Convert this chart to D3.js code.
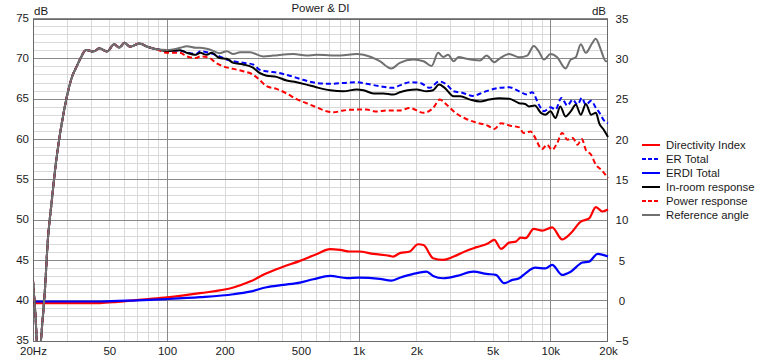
<!DOCTYPE html>
<html><head><meta charset="utf-8">
<script src="https://cdn.jsdelivr.net/npm/d3@7"></script>
<style>body{margin:0;background:#fff}svg{display:block;font-family:"Liberation Sans",Arial,sans-serif}</style>
</head><body><svg id="c" width="760" height="360"></svg>
<script>
// ---- data ----
const title = "Power & DI";
const freqTicks = [20,50,100,200,500,1000,2000,5000,10000,20000];
const freqTickLabels = ["20Hz","50","100","200","500","1k","2k","5k","10k","20k"];
const leftTicks = [35,40,45,50,55,60,65,70,75];
const rightTicks = [-5,0,5,10,15,20,25,30,35];
const seriesNames = ["Directivity Index","ER Total","ERDI Total","In-room response","Power response","Reference angle"];

// shared low-frequency roll-off (left axis, dB)
const lowEnd = [[20,42.5],[20.5,39],[21.5,31.5],[22,35],[23.1,41.5],[23.9,47.5],[25.1,52.5],[26.3,57],[27.6,60.5],[29,63.5],[30.5,66],[32,67.8],[33.7,69],[35.3,70],[37.8,71.1],[41.3,70.9],[44.4,71.3],[48.6,70.9],[53,71.8],[56.5,71.4],[60,72.0],[64,71.5],[72,71.9],[79,71.5],[88,71.2]];

const refAngle = [[100,71.1],[117,71.36],[127,71.56],[142,71.36],[149,71.36],[167,71.15],[188,70.7],[205,70.94],[222,70.6],[241,70.8],[271,70.8],[318,70.3],[358,70.4],[456,70.6],[534,70.4],[602,70.5],[800,70.4],[977,70.6],[1060,70.5],[1290,69.7],[1480,68.8],[1640,69.5],[1930,69.9],[2180,69.7],[2400,69.1],[2600,70.74],[2760,70.24],[2930,70.5],[3130,69.7],[3320,70.24],[3660,70.0],[4300,69.8],[4650,70.4],[5100,69.57],[5420,70.0],[6100,70.6],[6880,70.2],[7580,70.4],[8200,71.6],[8720,70.9],[9260,69.9],[10020,70.6],[10860,70.2],[12000,68.8],[12780,69.9],[13590,70.2],[14420,71.8],[15330,70.74],[16500,71.9],[17270,72.5],[18300,71.2],[19500,69.7],[20000,69.7]];

const inRoom = [[100,70.94],[117,71.06],[127,70.74],[142,70.5],[149,70.74],[161,70.5],[171,70.74],[188,70.1],[205,70.0],[222,69.5],[250,69.3],[281,68.9],[304,68.25],[331,67.9],[373,67.76],[421,67.3],[474,67.1],[534,66.8],[602,66.47],[710,66.1],[832,65.97],[977,66.2],[1060,66.1],[1196,65.7],[1350,65.7],[1513,65.56],[1640,65.85],[1800,66.1],[2004,66.2],[2260,65.97],[2446,66.1],[2630,66.8],[2810,66.4],[3130,65.35],[3390,65.35],[3820,64.94],[4300,64.7],[4800,64.94],[5420,65.1],[6100,65.06],[6880,64.5],[7400,64.4],[7740,64.1],[8300,64.2],[8930,63.3],[9430,63.07],[10020,63.5],[10640,62.66],[11270,64.1],[12000,62.86],[12780,63.48],[13590,64.3],[14420,63.07],[15330,64.4],[16330,63.07],[17300,63.3],[18000,62.0],[19000,61.2],[20000,60.3]];

const erTotal = [[100,71.0],[117,71.0],[127,70.8],[142,70.6],[149,70.94],[167,70.74],[188,70.3],[200,70.0],[222,69.7],[250,69.5],[281,69.3],[304,68.66],[331,68.46],[384,68.25],[437,67.9],[512,67.4],[602,67.0],[710,66.9],[832,67.0],[977,67.1],[1100,66.9],[1290,66.6],[1513,66.4],[1640,66.7],[1850,67.1],[2100,67.0],[2350,66.4],[2630,67.2],[2880,66.8],[3130,65.97],[3500,65.77],[3950,65.4],[4470,65.85],[4800,66.1],[5420,66.4],[6100,66.47],[6880,65.97],[7580,65.56],[8050,65.85],[8720,64.3],[9260,63.5],[10020,64.0],[10640,63.7],[11430,65.15],[12280,64.2],[13100,64.94],[13870,64.3],[14600,65.15],[15330,64.3],[16330,64.8],[17300,63.9],[18070,63.3],[19000,62.4],[20000,62.0]];

const powerResp = [[100,70.74],[117,70.74],[127,70.3],[142,70.1],[149,70.3],[167,70.1],[180,69.5],[195,69.1],[222,68.75],[250,68.46],[281,68.04],[304,67.4],[331,66.6],[373,66.27],[421,65.7],[474,65.0],[534,64.5],[602,64.0],[680,63.5],[740,63.36],[832,63.6],[977,63.7],[1100,63.7],[1240,63.45],[1400,63.6],[1640,63.6],[1850,63.9],[2180,63.3],[2446,63.9],[2650,64.94],[2880,64.3],[3200,63.3],[3600,62.6],[4100,62.1],[4720,61.7],[5100,61.3],[5530,62.0],[6200,61.7],[6880,61.5],[7250,60.8],[7900,61.0],[8200,60.5],[9070,58.8],[9600,59.35],[10220,58.7],[10860,59.56],[11530,60.8],[12280,59.97],[13100,60.18],[13870,59.35],[14600,60.05],[15330,58.7],[16330,58.1],[17300,56.86],[18450,56.24],[20000,55.2]];

// right axis (dB)
const directivity = [[20,-0.3],[30,-0.3],[44.7,-0.3],[55,-0.15],[66.8,0.05],[80,0.2],[100,0.4],[148.6,0.93],[222,1.63],[271,2.37],[331,3.4],[404,4.2],[494,4.94],[602,5.77],[710,6.4],[800,6.3],[900,6.1],[1000,6.1],[1196,5.8],[1456,5.55],[1513,5.47],[1640,5.9],[1850,6.1],[2040,7.0],[2180,6.9],[2446,5.27],[2760,5.06],[3130,5.47],[3660,6.2],[4130,6.64],[4720,7.1],[5100,7.55],[5530,6.43],[6100,7.2],[6610,7.33],[7000,7.83],[7420,7.75],[8200,8.9],[9070,8.7],[10220,9.1],[11530,7.6],[12780,8.36],[14420,9.8],[15950,10.2],[17300,11.6],[18700,11.06],[20000,11.3]];

const erdiTotal = [[20,-0.1],[45,-0.1],[70,0.05],[100,0.2],[149,0.43],[222,0.8],[271,1.13],[331,1.67],[404,1.96],[494,2.25],[580,2.66],[710,3.07],[870,2.8],[1000,2.85],[1290,2.7],[1480,2.5],[1640,2.85],[1930,3.32],[2260,3.6],[2446,3.07],[2760,2.78],[3260,3.07],[3970,3.6],[4650,3.32],[5200,3.2],[5750,2.17],[6350,2.58],[6880,2.78],[7420,3.4],[8350,4.1],[9430,4.0],[10220,4.44],[11530,3.2],[12780,3.6],[14700,4.73],[15950,4.85],[17670,5.8],[20000,5.47]];

// ---- chart ----
const svg = d3.select("#c");
const L=33, R=608, T=18.5, B=341;
const x = d3.scaleLog().domain([20,20000]).range([L,R]);
const yL = d3.scaleLinear().domain([35,75]).range([B,T]);
const yR = d3.scaleLinear().domain([-5,35]).range([B,T]);

const g = svg.append("g");
// minor grid horizontal
g.selectAll(".hm").data(d3.range(36,75).filter(v=>v%5!==0)).enter().append("line")
 .attr("x1",L).attr("x2",R).attr("y1",d=>yL(d)).attr("y2",d=>yL(d))
 .attr("stroke","#d9d9d9").attr("stroke-width",1).attr("shape-rendering","crispEdges");
// minor grid vertical
const minorF=[];
[10,100,1000,10000].forEach(dec=>{for(let k=2;k<=9;k++){const f=dec*k; if(f>20&&f<20000&&f!==100&&f!==1000&&f!==10000) minorF.push(f);} });
g.selectAll(".vm").data(minorF).enter().append("line")
 .attr("y1",T).attr("y2",B).attr("x1",d=>Math.round(x(d))+0.5).attr("x2",d=>Math.round(x(d))+0.5)
 .attr("stroke","#d9d9d9").attr("stroke-width",1);
// major grid
g.selectAll(".hM").data(leftTicks).enter().append("line")
 .attr("x1",L).attr("x2",R).attr("y1",d=>yL(d)).attr("y2",d=>yL(d))
 .attr("stroke","#8a8a8a").attr("stroke-width",1).attr("shape-rendering","crispEdges");
g.selectAll(".vM").data([100,1000,10000]).enter().append("line")
 .attr("y1",T).attr("y2",B).attr("x1",d=>Math.round(x(d))+0.5).attr("x2",d=>Math.round(x(d))+0.5)
 .attr("stroke","#8a8a8a").attr("stroke-width",1);
// border
g.append("rect").attr("x",L+0.5).attr("y",Math.round(T)+0.5).attr("width",R-L-1).attr("height",B-Math.round(T))
 .attr("fill","none").attr("stroke","#6a6a6a").attr("stroke-width",1);

// clip
svg.append("clipPath").attr("id","clip").append("rect").attr("x",L).attr("y",T-4).attr("width",R-L+1).attr("height",B-T+4);

const lineL = d3.line().x(d=>x(d[0])).y(d=>yL(d[1])).curve(d3.curveMonotoneX);
const lineR = d3.line().x(d=>x(d[0])).y(d=>yR(d[1])).curve(d3.curveMonotoneX);

const series = [
 {name:seriesNames[0], data:directivity, line:lineR, color:"#ff0000", dash:null, w:2.2},
 {name:seriesNames[1], data:lowEnd.concat(erTotal), line:lineL, color:"#0000ff", dash:"5,3", w:2},
 {name:seriesNames[2], data:erdiTotal, line:lineR, color:"#0000ff", dash:null, w:2.2},
 {name:seriesNames[3], data:lowEnd.concat(inRoom), line:lineL, color:"#000000", dash:null, w:2},
 {name:seriesNames[4], data:lowEnd.concat(powerResp), line:lineL, color:"#ff0000", dash:"5,3", w:2},
 {name:seriesNames[5], data:lowEnd.concat(refAngle), line:lineL, color:"#707070", dash:null, w:2}
];
const cg = svg.append("g").attr("clip-path","url(#clip)");
series.forEach(s=>{
  cg.append("path").attr("d",s.line(s.data)).attr("fill","none").attr("stroke",s.color)
    .attr("stroke-width",s.w).attr("stroke-dasharray",s.dash).attr("stroke-linejoin","round");
});

// axes labels
const fs = "11.5px";
const axL = d3.axisLeft(yL).tickValues(leftTicks).tickSize(0).tickPadding(0).tickFormat(d3.format("d"));
svg.append("g").attr("transform","translate(29,-1)").call(axL)
 .call(a=>a.select(".domain").remove())
 .selectAll("text").attr("font-size",fs).attr("font-family","Liberation Sans, Arial, sans-serif").attr("fill","#1a1a1a");
const axR = d3.axisRight(yR).tickValues(rightTicks).tickSize(0).tickPadding(0).tickFormat(d3.format("d"));
svg.append("g").attr("transform","translate(622,0)").call(axR)
 .call(a=>a.select(".domain").remove())
 .selectAll("text").attr("text-anchor","middle").attr("font-size",fs).attr("font-family","Liberation Sans, Arial, sans-serif").attr("fill","#1a1a1a");
const axB = d3.axisBottom(x).tickValues(freqTicks).tickSize(0).tickPadding(0).tickFormat((d,i)=>freqTickLabels[i]);
svg.append("g").attr("transform","translate(0,347)").call(axB)
 .call(a=>a.select(".domain").remove())
 .selectAll("text").attr("font-size",fs).attr("font-family","Liberation Sans, Arial, sans-serif").attr("fill","#1a1a1a");

// titles
svg.append("text").attr("x",(L+R)/2).attr("y",12).attr("text-anchor","middle").attr("font-size",fs).attr("fill","#1a1a1a").text(title);
svg.append("text").attr("x",L+1).attr("y",15).attr("font-size",fs).attr("fill","#1a1a1a").text("dB");
svg.append("text").attr("x",R-2).attr("y",15).attr("text-anchor","end").attr("font-size",fs).attr("fill","#1a1a1a").text("dB");

// legend
const lg = svg.append("g");
series.forEach((s,i)=>{
  const yy = 145 + i*14;
  lg.append("line").attr("x1",642).attr("x2",660).attr("y1",yy).attr("y2",yy)
    .attr("stroke",s.color).attr("stroke-width",2).attr("stroke-dasharray",s.dash? "4,2":null);
  lg.append("text").attr("x",666).attr("y",yy).attr("dy","0.35em").attr("font-size","11.3px").attr("fill","#1a1a1a").text(s.name);
});
</script></body></html>
